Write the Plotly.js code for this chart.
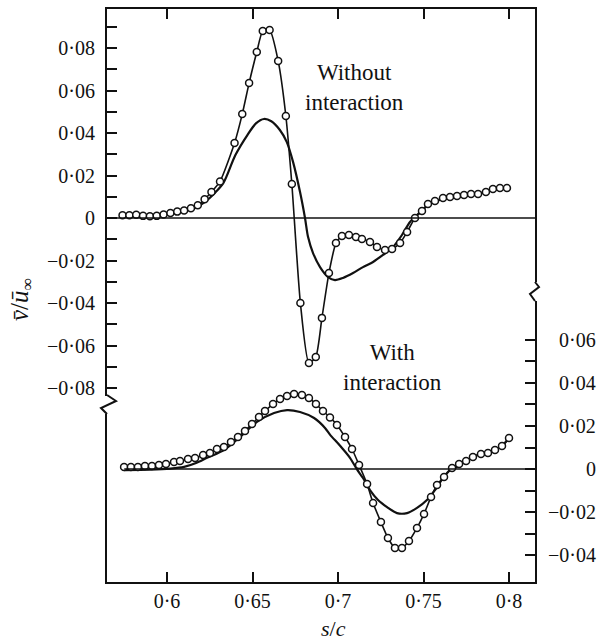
<!DOCTYPE html>
<html>
<head>
<meta charset="utf-8">
<script src="https://cdn.plot.ly/plotly-3.0.1.min.js"></script>
<style>html,body{margin:0;padding:0;background:#fff;}#chart{width:600px;height:642px;}</style>
</head>
<body>
<div id="chart"></div>
<script>
// ---- data ----
// Upper set: "Without interaction" (left axis)
var xWithoutCircles = [0.574, 0.578, 0.582, 0.586, 0.590, 0.594, 0.598, 0.602, 0.606, 0.610, 0.614, 0.618, 0.622, 0.626, 0.631, 0.6395, 0.644, 0.648, 0.6525, 0.656, 0.660, 0.665, 0.6695, 0.673, 0.678, 0.683, 0.687, 0.6906, 0.6947, 0.6988, 0.7023, 0.7064, 0.7105, 0.714, 0.7187, 0.7228, 0.7275, 0.7316, 0.7363, 0.7404, 0.745, 0.7491, 0.7526, 0.7567, 0.7614, 0.7655, 0.7696, 0.7737, 0.7778, 0.7819, 0.7865, 0.7906, 0.7947, 0.7988];
var yWithoutCircles = [0.0013, 0.0013, 0.0015, 0.0010, 0.0008, 0.0010, 0.0016, 0.0024, 0.0030, 0.0035, 0.0046, 0.0060, 0.0088, 0.0122, 0.0172, 0.0353, 0.0489, 0.0635, 0.0781, 0.0880, 0.0885, 0.0739, 0.0480, 0.0160, -0.0400, -0.0682, -0.0654, -0.0470, -0.0259, -0.0118, -0.0085, -0.0080, -0.0089, -0.0099, -0.0113, -0.0136, -0.0151, -0.0146, -0.0118, -0.0066, 0.0000, 0.0033, 0.0066, 0.0080, 0.0094, 0.0099, 0.0104, 0.0108, 0.0113, 0.0113, 0.0122, 0.0136, 0.0141, 0.0141];

var xWithoutLine = [0.575, 0.585, 0.595, 0.605, 0.615, 0.622, 0.628, 0.633, 0.640, 0.647, 0.652, 0.6567, 0.661, 0.666, 0.670, 0.6737, 0.6778, 0.6807, 0.6825, 0.6854, 0.6895, 0.6942, 0.6982, 0.7029, 0.7088, 0.7146, 0.7205, 0.7263, 0.7322, 0.7374, 0.7421, 0.7462, 0.7491, 0.7526, 0.7567, 0.7655, 0.7737, 0.7819, 0.7906, 0.7988];
var yWithoutLine = [0.0005, 0.0006, 0.0010, 0.0024, 0.0042, 0.0075, 0.0118, 0.0165, 0.0296, 0.0390, 0.0445, 0.0466, 0.0455, 0.0414, 0.0358, 0.0264, 0.0122, 0.0000, -0.0090, -0.0165, -0.0231, -0.0278, -0.0292, -0.0282, -0.0259, -0.0231, -0.0207, -0.0174, -0.0136, -0.0080, -0.0019, 0.0014, 0.0035, 0.0062, 0.0078, 0.0097, 0.0107, 0.0113, 0.0136, 0.0141];

// Lower set: "With interaction" (right axis)
var xWithCircles = [0.5749, 0.5789, 0.5830, 0.5871, 0.5912, 0.5953, 0.5994, 0.6041, 0.6076, 0.6123, 0.6164, 0.6211, 0.6251, 0.6292, 0.6333, 0.6374, 0.6415, 0.6456, 0.6497, 0.6538, 0.6573, 0.6620, 0.6661, 0.6702, 0.6743, 0.6789, 0.6830, 0.6871, 0.6912, 0.6953, 0.6994, 0.7041, 0.7082, 0.7123, 0.7170, 0.7205, 0.7251, 0.7292, 0.7333, 0.7374, 0.7415, 0.7462, 0.7503, 0.7544, 0.7579, 0.7620, 0.7667, 0.7708, 0.7749, 0.7789, 0.7836, 0.7877, 0.7918, 0.7959, 0.8000];
var yWithCircles = [0.0009, 0.0009, 0.0009, 0.0014, 0.0014, 0.0019, 0.0023, 0.0033, 0.0037, 0.0047, 0.0051, 0.0065, 0.0074, 0.0093, 0.0102, 0.0126, 0.0149, 0.0177, 0.0209, 0.0242, 0.0270, 0.0302, 0.0326, 0.0340, 0.0349, 0.0344, 0.0330, 0.0302, 0.0270, 0.0240, 0.0205, 0.0149, 0.0093, 0.0019, -0.0070, -0.0158, -0.0247, -0.0321, -0.0367, -0.0367, -0.0335, -0.0274, -0.0209, -0.0130, -0.0074, -0.0037, 0.0005, 0.0023, 0.0037, 0.0056, 0.0070, 0.0074, 0.0088, 0.0107, 0.0144];

var xWithLine = [0.575, 0.590, 0.602, 0.610, 0.617, 0.6234, 0.6333, 0.6427, 0.6526, 0.6626, 0.6702, 0.6778, 0.6860, 0.6924, 0.6953, 0.7012, 0.7070, 0.7111, 0.7146, 0.7187, 0.7234, 0.7287, 0.7345, 0.7404, 0.7462, 0.7520, 0.7567, 0.7614, 0.7655, 0.7696, 0.7749, 0.7789, 0.7836, 0.7877, 0.7918, 0.7959, 0.8000];
var yWithLine = [-0.0005, -0.0003, 0.0002, 0.0010, 0.0028, 0.0052, 0.0088, 0.0149, 0.0219, 0.0260, 0.0274, 0.0265, 0.0237, 0.0191, 0.0160, 0.0108, 0.0052, -0.0002, -0.0042, -0.0098, -0.0144, -0.0177, -0.0205, -0.0205, -0.0181, -0.0144, -0.0098, -0.0042, -0.0005, 0.0009, 0.0037, 0.0056, 0.0070, 0.0074, 0.0088, 0.0107, 0.0144];

// ticks
var xTickVals = [0.6, 0.65, 0.7, 0.75, 0.8];
var xTickText = ["0·6", "0·65", "0·7", "0·75", "0·8"];
var yLeftTickVals = [-0.08, -0.06, -0.04, -0.02, 0, 0.02, 0.04, 0.06, 0.08];
var yLeftTickText = ["−0·08", "−0·06", "−0·04", "−0·02", "0", "0·02", "0·04", "0·06", "0·08"];
var yLeftMinorVals = [-0.07, -0.05, -0.03, -0.01, 0.01, 0.03, 0.05, 0.07, 0.09];
var yRightTickVals = [-0.04, -0.03, -0.02, -0.01, 0, 0.01, 0.02, 0.03, 0.04, 0.05, 0.06];
var yRightLabelVals = [-0.04, -0.02, 0, 0.02, 0.04, 0.06];
var yRightLabelText = ["−0·04", "−0·02", "0", "0·02", "0·04", "0·06"];

var xRange = [0.56491, 0.8152];
var yLeftRange = [-0.17129, 0.09835];
var yRightRange = [-0.05256, 0.21395];

// ---- drawing ----
var ink = '#111';
var font = '"Liberation Serif", "Times New Roman", Times, serif';

function solid(x, y, ax) {
  return {x: x, y: y, yaxis: ax, type: 'scatter', mode: 'lines',
    line: {color: ink, width: 2.2, shape: 'spline', smoothing: 0.8}, hoverinfo: 'skip'};
}
function circles(x, y, ax) {
  return {x: x, y: y, yaxis: ax, type: 'scatter', mode: 'lines+markers',
    line: {color: ink, width: 1.6, shape: 'spline', smoothing: 0.6},
    marker: {symbol: 'circle', size: 7, color: 'white', line: {color: ink, width: 1.5}},
    hoverinfo: 'skip'};
}

var traces = [
  solid(xWithoutLine, yWithoutLine, 'y'),
  circles(xWithoutCircles, yWithoutCircles, 'y'),
  solid(xWithLine, yWithLine, 'y2'),
  circles(xWithCircles, yWithCircles, 'y2')
];

// pixel helpers for paper coords of the plot frame
var L = 107, R = 535, T = 9, B = 582;
function px(p) { return (p - L) / (R - L); }
function py(p) { return (B - p) / (B - T); }

var annotations = [
  {xref: 'paper', yref: 'paper', x: px(354), y: py(87), text: 'Without<br>interaction', showarrow: false,
   font: {family: font, size: 23, color: ink}, xanchor: 'center', yanchor: 'middle', align: 'center'},
  {xref: 'paper', yref: 'paper', x: px(392), y: py(367), text: 'With<br>interaction', showarrow: false,
   font: {family: font, size: 23, color: ink}, xanchor: 'center', yanchor: 'middle', align: 'center'},
  {xref: 'paper', yref: 'paper', x: px(21), y: py(300), text: '<i>v\u0304</i>/<i>ū</i><sub>∞</sub>', textangle: -90,
   showarrow: false, font: {family: font, size: 25, color: ink}, xanchor: 'center', yanchor: 'middle'},
  {xref: 'paper', yref: 'paper', x: px(333), y: py(629), text: '<i>s</i>/<i>c</i>', showarrow: false,
   font: {family: font, size: 22, color: ink}, xanchor: 'center', yanchor: 'middle'}
];
for (var i = 0; i < yRightLabelVals.length; i++) {
  annotations.push({xref: 'paper', yref: 'y2', x: px(598), y: yRightLabelVals[i], text: yRightLabelText[i],
    showarrow: false, xanchor: 'right', yanchor: 'middle', font: {family: font, size: 20, color: ink}});
}

function pathFrom(pts) {
  return pts.map(function (p, k) { return (k ? 'L' : 'M') + px(p[0]) + ',' + py(p[1]); }).join(' ');
}

var shapes = [
  // zero reference lines
  {type: 'line', xref: 'paper', x0: 0, x1: 1, yref: 'y', y0: 0, y1: 0, line: {color: ink, width: 1.6}},
  {type: 'line', xref: 'x', x0: 0.575, x1: xRange[1], yref: 'y2', y0: 0, y1: 0, line: {color: ink, width: 1.6}},
  // axis breaks: erase line segment, then zigzag
  {type: 'line', xref: 'paper', yref: 'paper', x0: 0, x1: 0, y0: py(396), y1: py(414), line: {color: 'white', width: 4}, layer: 'above'},
  {type: 'path', xref: 'paper', yref: 'paper', path: pathFrom([[107, 395], [116, 401], [101, 408], [107, 414]]), line: {color: ink, width: 2}, layer: 'above'},
  {type: 'line', xref: 'paper', yref: 'paper', x0: 1, x1: 1, y0: py(282), y1: py(301), line: {color: 'white', width: 4}, layer: 'above'},
  {type: 'path', xref: 'paper', yref: 'paper', path: pathFrom([[535, 282], [539, 287], [530, 294], [535, 301]]), line: {color: ink, width: 2}, layer: 'above'}
];

var axisCommon = {showgrid: false, zeroline: false, ticks: 'inside', ticklen: 10, tickwidth: 2, tickcolor: ink,
  showline: true, linewidth: 2, linecolor: ink, tickfont: {family: font, size: 20, color: ink}, fixedrange: true};

var layout = {
  width: 600, height: 642,
  margin: {l: L, r: 600 - R, t: T, b: 642 - B, pad: 0},
  paper_bgcolor: 'white', plot_bgcolor: 'white', showlegend: false,
  font: {family: font, size: 20, color: ink},
  xaxis: Object.assign({}, axisCommon, {range: xRange, tickmode: 'array', tickvals: xTickVals, ticktext: xTickText,
    mirror: 'ticks', ticklabelstandoff: 0}),
  yaxis: Object.assign({}, axisCommon, {range: yLeftRange, tickmode: 'array', tickvals: yLeftTickVals, ticktext: yLeftTickText,
    mirror: false, ticklabelstandoff: 6,
    minor: {tickmode: 'array', tickvals: yLeftMinorVals, ticks: 'inside', ticklen: 10, tickwidth: 2, tickcolor: ink, showgrid: false}}),
  yaxis2: Object.assign({}, axisCommon, {range: yRightRange, overlaying: 'y', side: 'right', tickmode: 'array',
    tickvals: yRightTickVals, showticklabels: false, mirror: false}),
  annotations: annotations,
  shapes: shapes
};

Plotly.newPlot('chart', traces, layout, {staticPlot: true, displayModeBar: false});
</script>
</body>
</html>
